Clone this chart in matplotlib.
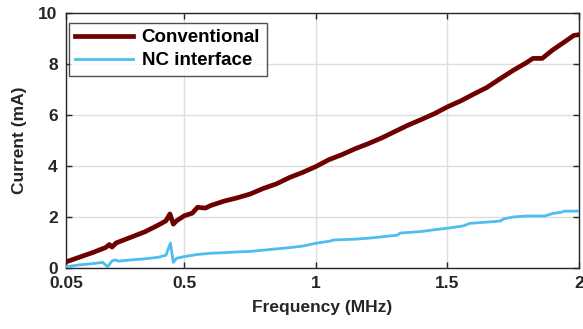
import matplotlib
matplotlib.use("Agg")
import matplotlib.pyplot as plt

plt.rcParams['font.family'] = ['Liberation Sans', 'DejaVu Sans']
plt.rcParams['font.weight'] = 'bold'

# Conventional interface current vs frequency
conv_f = [0.05, 0.10, 0.15, 0.20, 0.215, 0.225, 0.24, 0.30, 0.35, 0.40, 0.43, 0.445,
          0.458, 0.47, 0.50, 0.53, 0.55, 0.58, 0.60, 0.65, 0.70, 0.75, 0.80, 0.85,
          0.90, 0.95, 1.00, 1.05, 1.10, 1.15, 1.20, 1.25, 1.30, 1.35, 1.40, 1.45,
          1.50, 1.55, 1.60, 1.65, 1.70, 1.75, 1.80, 1.825, 1.86, 1.90, 1.95, 1.98, 2.00]
conv_i = [0.24, 0.42, 0.60, 0.80, 0.92, 0.82, 0.98, 1.22, 1.42, 1.68, 1.85, 2.12,
          1.72, 1.85, 2.05, 2.15, 2.38, 2.35, 2.45, 2.62, 2.75, 2.90, 3.12, 3.30,
          3.55, 3.75, 3.98, 4.25, 4.45, 4.68, 4.88, 5.10, 5.35, 5.60, 5.82, 6.05,
          6.32, 6.55, 6.82, 7.08, 7.42, 7.75, 8.05, 8.22, 8.22, 8.55, 8.90, 9.12, 9.15]

# NC interface current vs frequency
nc_f = [0.05, 0.10, 0.15, 0.19, 0.208, 0.225, 0.236, 0.25, 0.30, 0.35, 0.40, 0.43,
        0.447, 0.458, 0.47, 0.50, 0.55, 0.60, 0.65, 0.70, 0.75, 0.80, 0.85, 0.90,
        0.95, 1.00, 1.05, 1.07, 1.15, 1.20, 1.25, 1.31, 1.32, 1.40, 1.45, 1.50,
        1.56, 1.585, 1.65, 1.70, 1.715, 1.75, 1.80, 1.87, 1.90, 1.93, 1.945, 2.00]
nc_i = [0.05, 0.12, 0.17, 0.22, 0.05, 0.28, 0.32, 0.27, 0.32, 0.36, 0.42, 0.50,
        0.98, 0.22, 0.38, 0.45, 0.53, 0.58, 0.60, 0.63, 0.65, 0.70, 0.75, 0.80,
        0.86, 0.97, 1.05, 1.10, 1.13, 1.17, 1.22, 1.29, 1.37, 1.43, 1.50, 1.56,
        1.65, 1.75, 1.80, 1.84, 1.93, 2.00, 2.04, 2.04, 2.14, 2.18, 2.23, 2.23]

x_ticks = [0.05, 0.5, 1, 1.5, 2]
x_ticklabels = ['0.05', '0.5', '1', '1.5', '2']
y_ticks = [0, 2, 4, 6, 8, 10]

fig = plt.figure(figsize=(5.83, 3.29), dpi=100)
ax = fig.add_axes([0.1132, 0.1854, 0.8799, 0.7751])

ax.plot(conv_f, conv_i, color='#6E0000', lw=3.4, label='Conventional', zorder=3)
ax.plot(nc_f, nc_i, color='#4DBEEE', lw=2.0, label='NC interface', zorder=3)

ax.set_xlim(0.05, 2)
ax.set_ylim(0, 10)
ax.set_xticks(x_ticks)
ax.set_xticklabels(x_ticklabels)
ax.set_yticks(y_ticks)

ax.grid(True, color='#DEDEDE', lw=1.0)
ax.set_axisbelow(True)
ax.tick_params(direction='in', top=True, right=True, length=4, width=1,
               colors='#262626', labelsize=12.5, pad=6)
for t in ax.get_xticklabels() + ax.get_yticklabels():
    t.set_fontweight('bold')
for s in ax.spines.values():
    s.set_color('#262626')
    s.set_linewidth(1.0)

ax.set_xlabel('Frequency (MHz)', fontsize=12.5, fontweight='bold', color='#262626', labelpad=6)
ax.set_ylabel('Current (mA)', fontsize=12.5, fontweight='bold', color='#262626', labelpad=8)

leg = ax.legend(loc='upper left', bbox_to_anchor=(0.005, 0.962), fontsize=13.5,
                handlelength=3.1, frameon=True, fancybox=False, borderpad=0.35,
                labelspacing=0.3, handletextpad=0.45, borderaxespad=0.0)
leg.get_frame().set_edgecolor('#262626')
leg.get_frame().set_linewidth(1.0)
for t in leg.get_texts():
    t.set_fontweight('bold')

fig.savefig('out.png', dpi=100)
